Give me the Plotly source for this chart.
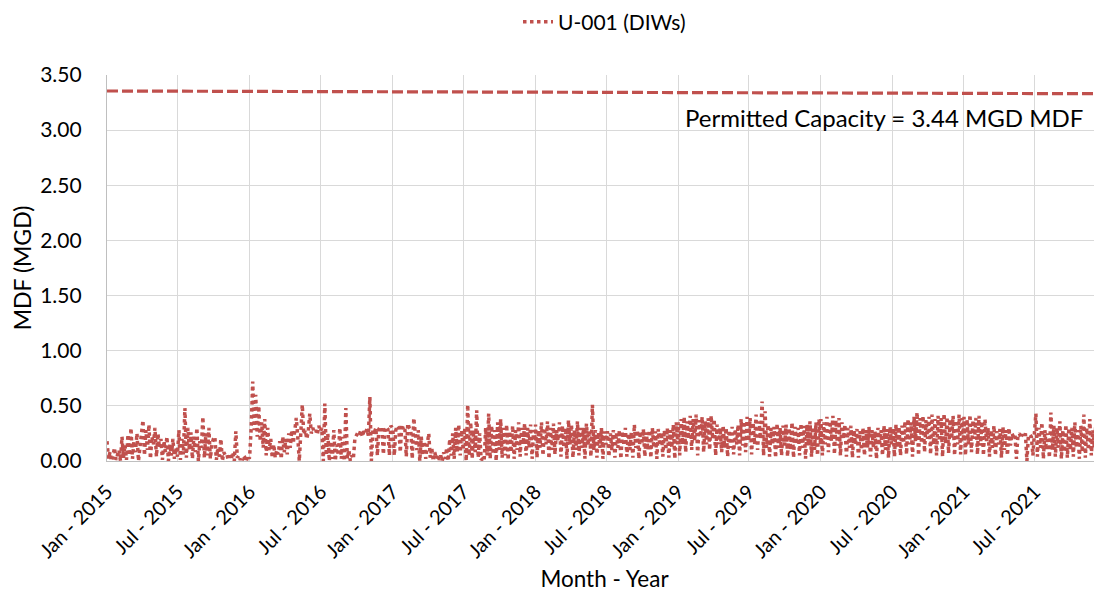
import pandas as pd
import plotly.graph_objects as go

# Daily-flow readings (MGD), ~8 readings per month
y2015 = [0.18, 0.02, 0.08, 0.00, 0.05, 0.12, 0.01, 0.06,
         0.10, 0.00, 0.22, 0.03, 0.15, 0.01, 0.24, 0.05,
         0.30, 0.02, 0.18, 0.08, 0.25, 0.00, 0.12, 0.20,
         0.37, 0.05, 0.28, 0.10, 0.33, 0.02, 0.22, 0.15,
         0.30, 0.04, 0.25, 0.12, 0.20, 0.01, 0.18, 0.08,
         0.22, 0.00, 0.15, 0.05, 0.20, 0.02, 0.12, 0.04,
         0.28, 0.01, 0.20, 0.06, 0.48, 0.03, 0.30, 0.10,
         0.26, 0.02, 0.22, 0.08, 0.30, 0.00, 0.18, 0.12,
         0.40, 0.03, 0.25, 0.05, 0.30, 0.02, 0.15, 0.20,
         0.22, 0.01, 0.12, 0.04, 0.20, 0.00, 0.08, 0.05,
         0.06, 0.01, 0.05, 0.02, 0.08, 0.00, 0.27, 0.03,
         0.05, 0.01, 0.04, 0.02, 0.03, 0.00, 0.05, 0.02]
y2016 = [0.05, 0.30, 0.72, 0.28, 0.60, 0.22, 0.50, 0.18,
         0.35, 0.12, 0.38, 0.05, 0.30, 0.10, 0.20, 0.03,
         0.15, 0.03, 0.10, 0.06, 0.18, 0.02, 0.22, 0.08,
         0.20, 0.06, 0.25, 0.12, 0.28, 0.16, 0.30, 0.39,
         0.22, 0.00, 0.25, 0.51, 0.24, 0.28, 0.20, 0.27,
         0.43, 0.25, 0.30, 0.26, 0.28, 0.24, 0.32, 0.27,
         0.30, 0.00, 0.52, 0.05, 0.25, 0.00, 0.18, 0.02,
         0.28, 0.00, 0.15, 0.05, 0.30, 0.02, 0.22, 0.00,
         0.48, 0.02, 0.10, 0.00, 0.05, 0.02, 0.20, 0.24,
         0.26, 0.24, 0.28, 0.22, 0.27, 0.25, 0.29, 0.23,
         0.58, 0.00, 0.28, 0.26, 0.30, 0.05, 0.29, 0.31,
         0.30, 0.06, 0.28, 0.31, 0.29, 0.05, 0.32, 0.30]
y2017 = [0.30, 0.05, 0.28, 0.32, 0.30, 0.08, 0.33, 0.29,
         0.31, 0.04, 0.34, 0.30, 0.28, 0.02, 0.39, 0.25,
         0.10, 0.28, 0.00, 0.22, 0.05, 0.18, 0.02, 0.15,
         0.25, 0.03, 0.12, 0.00, 0.08, 0.02, 0.06, 0.01,
         0.05, 0.00, 0.08, 0.02, 0.12, 0.00, 0.20, 0.05,
         0.25, 0.02, 0.30, 0.08, 0.33, 0.05, 0.28, 0.10,
         0.30, 0.00, 0.51, 0.05, 0.35, 0.02, 0.28, 0.08,
         0.46, 0.03, 0.25, 0.01, 0.02, 0.00, 0.30, 0.05,
         0.43, 0.02, 0.32, 0.06, 0.28, 0.00, 0.35, 0.10,
         0.38, 0.03, 0.30, 0.05, 0.33, 0.01, 0.27, 0.08,
         0.32, 0.02, 0.28, 0.10, 0.35, 0.04, 0.30, 0.15,
         0.34, 0.05, 0.30, 0.12, 0.33, 0.02, 0.28, 0.18]
y2018 = [0.33, 0.03, 0.28, 0.12, 0.35, 0.05, 0.30, 0.15,
         0.36, 0.02, 0.30, 0.10, 0.34, 0.06, 0.28, 0.18,
         0.35, 0.04, 0.32, 0.12, 0.30, 0.02, 0.37, 0.15,
         0.33, 0.03, 0.28, 0.10, 0.36, 0.05, 0.30, 0.12,
         0.30, 0.02, 0.34, 0.14, 0.28, 0.04, 0.51, 0.10,
         0.28, 0.03, 0.26, 0.12, 0.30, 0.02, 0.27, 0.15,
         0.27, 0.04, 0.25, 0.10, 0.28, 0.03, 0.26, 0.12,
         0.28, 0.02, 0.27, 0.14, 0.30, 0.04, 0.25, 0.10,
         0.26, 0.03, 0.33, 0.12, 0.28, 0.02, 0.27, 0.15,
         0.29, 0.04, 0.26, 0.10, 0.28, 0.03, 0.30, 0.12,
         0.27, 0.02, 0.29, 0.14, 0.26, 0.04, 0.28, 0.10,
         0.30, 0.03, 0.28, 0.12, 0.33, 0.02, 0.35, 0.15]
y2019 = [0.35, 0.05, 0.38, 0.15, 0.40, 0.08, 0.36, 0.20,
         0.41, 0.10, 0.38, 0.18, 0.42, 0.05, 0.37, 0.22,
         0.40, 0.08, 0.36, 0.15, 0.39, 0.10, 0.41, 0.20,
         0.38, 0.05, 0.33, 0.15, 0.30, 0.08, 0.32, 0.12,
         0.30, 0.04, 0.28, 0.12, 0.31, 0.06, 0.29, 0.15,
         0.33, 0.05, 0.38, 0.14, 0.36, 0.08, 0.40, 0.18,
         0.39, 0.06, 0.35, 0.15, 0.42, 0.10, 0.36, 0.20,
         0.54, 0.05, 0.45, 0.12, 0.33, 0.04, 0.30, 0.15,
         0.31, 0.03, 0.34, 0.12, 0.30, 0.05, 0.32, 0.14,
         0.33, 0.04, 0.30, 0.10, 0.35, 0.03, 0.31, 0.15,
         0.30, 0.05, 0.34, 0.12, 0.32, 0.02, 0.33, 0.14,
         0.36, 0.04, 0.31, 0.10, 0.35, 0.05, 0.38, 0.15]
y2020 = [0.38, 0.05, 0.35, 0.15, 0.40, 0.08, 0.36, 0.18,
         0.41, 0.06, 0.37, 0.14, 0.39, 0.05, 0.35, 0.20,
         0.33, 0.04, 0.30, 0.12, 0.32, 0.03, 0.28, 0.15,
         0.29, 0.03, 0.27, 0.10, 0.30, 0.05, 0.28, 0.12,
         0.31, 0.04, 0.28, 0.12, 0.27, 0.02, 0.30, 0.14,
         0.28, 0.05, 0.32, 0.10, 0.29, 0.03, 0.31, 0.15,
         0.30, 0.04, 0.33, 0.12, 0.31, 0.05, 0.32, 0.16,
         0.36, 0.06, 0.38, 0.15, 0.35, 0.04, 0.40, 0.18,
         0.44, 0.05, 0.39, 0.16, 0.41, 0.08, 0.37, 0.20,
         0.40, 0.06, 0.42, 0.15, 0.38, 0.05, 0.41, 0.18,
         0.39, 0.04, 0.43, 0.16, 0.40, 0.07, 0.38, 0.20,
         0.41, 0.05, 0.37, 0.15, 0.42, 0.06, 0.39, 0.18]
y2021 = [0.40, 0.05, 0.38, 0.15, 0.42, 0.08, 0.37, 0.20,
         0.39, 0.06, 0.41, 0.14, 0.36, 0.05, 0.38, 0.18,
         0.30, 0.04, 0.28, 0.12, 0.32, 0.05, 0.27, 0.15,
         0.29, 0.03, 0.31, 0.10, 0.28, 0.05, 0.30, 0.14,
         0.25, 0.22, 0.24, 0.02, 0.23, 0.25, 0.21, 0.24,
         0.22, 0.25, 0.00, 0.23, 0.24, 0.22, 0.05, 0.25,
         0.43, 0.04, 0.30, 0.12, 0.35, 0.02, 0.28, 0.10,
         0.25, 0.03, 0.44, 0.10, 0.32, 0.04, 0.30, 0.12,
         0.36, 0.02, 0.28, 0.08, 0.33, 0.03, 0.30, 0.10,
         0.30, 0.04, 0.35, 0.12, 0.28, 0.02, 0.32, 0.08,
         0.42, 0.03, 0.30, 0.10, 0.38, 0.05, 0.28, 0.12,
         0.33, 0.02, 0.27, 0.10, 0.30, 0.04, 0.28, 0.08]

years = [2015, 2016, 2017, 2018, 2019, 2020, 2021]
yearly_values = [y2015, y2016, y2017, y2018, y2019, y2020, y2021]

# Permitted capacity reference line (as drawn)
cap_dates = ["2015-01-01", "2021-12-31"]
cap_values = [3.355, 3.33]

series_name = "U-001 (DIWs)"
cap_label = "Permitted Capacity = 3.44 MGD MDF"

dates, values = [], []
for yr, vals in zip(years, yearly_values):
    d = pd.date_range(f"{yr}-01-01", f"{yr}-12-31", periods=len(vals))
    dates.extend(d)
    values.extend(vals)

RED = "#C0504D"
FONT = "Lato, Carlito, Calibri, sans-serif"

fig = go.Figure()
fig.add_trace(go.Scatter(
    x=dates, y=values, mode="lines", name=series_name,
    line=dict(color=RED, width=3.5, dash="3.5px,3.5px"),
))
fig.add_trace(go.Scatter(
    x=cap_dates, y=cap_values, mode="lines", showlegend=False,
    line=dict(color=RED, width=3.2, dash="11px,4px"),
))

fig.add_annotation(
    text=cap_label, xref="paper", yref="paper",
    x=0.983, y=0.889, xanchor="right", yanchor="middle",
    showarrow=False, font=dict(size=24, color="#000000", family=FONT),
)

fig.update_layout(
    width=1102, height=599,
    margin=dict(l=99, r=8, t=67, b=146, autoexpand=False),
    paper_bgcolor="white", plot_bgcolor="white",
    font=dict(family=FONT, color="#000000"),
    showlegend=True,
    legend=dict(orientation="h", x=0.5, xanchor="center", y=1.19, yanchor="top",
                font=dict(size=21, family=FONT), bgcolor="rgba(0,0,0,0)"),
)
fig.update_xaxes(
    type="date", range=["2015-01-01", "2021-12-20"], automargin=False,
    tick0="2015-01-01", dtick="M6", tickformat="%b - %Y",
    tickangle=-45, tickfont=dict(size=20, family=FONT),
    showgrid=True, gridcolor="#D9D9D9", gridwidth=1.3,
    showline=True, linecolor="#BFBFBF", linewidth=1.3,
    ticks="", ticklabelstandoff=10,
    title=dict(text="Month - Year", font=dict(size=22.5, family=FONT), standoff=10),
)
fig.update_yaxes(
    range=[0, 3.5], dtick=0.5, tickformat=".2f", automargin=False,
    tickfont=dict(size=21, family=FONT),
    showgrid=True, gridcolor="#D9D9D9", gridwidth=1.3,
    showline=True, linecolor="#BFBFBF", linewidth=1.3,
    zeroline=False, ticks="", ticklabelstandoff=20,
    title=dict(text="MDF (MGD)", font=dict(size=23, family=FONT), standoff=12),
)

fig.write_html("out.html")
